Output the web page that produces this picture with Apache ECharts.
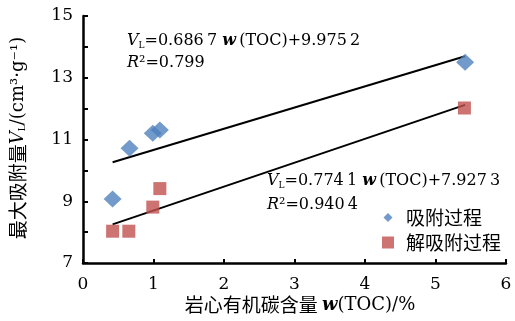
<!DOCTYPE html>
<html><head><meta charset="utf-8">
<script src="https://cdn.jsdelivr.net/npm/echarts@6/dist/echarts.min.js"></script>
<style>html,body{margin:0;padding:0;background:#fff}#c{width:515px;height:321px}</style>
</head><body><div id="c"></div>
<script>
const adsX = [0.42, 0.66, 0.99, 1.09, 5.42];
const adsY = [9.07, 10.72, 11.2, 11.31, 13.5];
const desX = [0.42, 0.65, 0.99, 1.09, 5.41];
const desY = [8.03, 8.03, 8.81, 9.41, 12.02];
const adsFit = {k: 0.6867, b: 9.9752};
const desFit = {k: 0.7741, b: 7.9273};
const adsR2 = '0.799';
const desR2 = '0.940\u20094';
const fitRange = [0.42, 5.42];
const xTicks = [0, 1, 2, 3, 4, 5, 6];
const yTicks = [7, 9, 11, 13, 15];
const seriesNames = ['吸附过程', '解吸附过程'];

const serif = '"DejaVu Serif","Liberation Serif","Noto Sans CJK SC",serif';
const cjk = '"Noto Sans CJK SC",sans-serif';
const fitLine = f => fitRange.map(x => [x, f.k * x + f.b]);
const grp = v => { const s = v.toFixed(4); return s.slice(0, 5) + '\u2009' + s.slice(5); };

const chart = echarts.init(document.getElementById('c'), null, {renderer: 'canvas'});
const rich = {
  v: {fontFamily: serif, fontStyle: 'italic', fontSize: 16, color: '#000'},
  s: {fontFamily: serif, fontSize: 9, color: '#000', padding: [10, 0, 0, 0]},
  t: {fontFamily: serif, fontSize: 16, color: '#000'},
  w: {fontFamily: serif, fontStyle: 'italic', fontWeight: 'bold', fontSize: 16, color: '#000'},
  c: {fontFamily: cjk, fontSize: 19, color: '#000'},
  v2: {fontFamily: serif, fontStyle: 'italic', fontSize: 18, color: '#000'},
  t2: {fontFamily: serif, fontSize: 18, color: '#000'},
  w2: {fontFamily: serif, fontStyle: 'italic', fontWeight: 'bold', fontSize: 18, color: '#000'}
};
function eqText(f) {
  return '{v|V}{s|L}{t|=' + grp(f.k) + ' }{w|w}{t|\u2009(TOC)+' + grp(f.b) + '}';
}
chart.setOption({
  animation: false,
  grid: {left: 83, right: 9, top: 16, bottom: 58},
  xAxis: {
    type: 'value', min: 0, max: 6, interval: 1,
    axisLine: {lineStyle: {color: '#000', width: 2.5}},
    axisTick: {inside: true, length: 4, lineStyle: {color: '#000', width: 2}},
    axisLabel: {fontFamily: serif, fontSize: 17, color: '#000', margin: 13},
    splitLine: {show: false}
  },
  yAxis: {
    type: 'value', min: 7, max: 15, interval: 1,
    axisLine: {show: true, lineStyle: {color: '#000', width: 2.5}},
    axisTick: {inside: true, length: 5, lineStyle: {color: '#000', width: 2}},
    axisLabel: {fontFamily: serif, fontSize: 17, color: '#000', margin: 10,
      formatter: v => yTicks.includes(v) ? String(v) : ''},
    splitLine: {show: false}
  },
  legend: {
    orient: 'vertical', left: 377, top: 203, itemGap: 6,
    itemWidth: 12, itemHeight: 12,
    textStyle: {fontFamily: cjk, fontSize: 19, color: '#000', padding: [0, 0, 0, 7]},
    data: [
      {name: seriesNames[0], icon: 'path://M0,0 M12,12 M6,1.5 L10.5,6 L6,10.5 L1.5,6 Z'},
      {name: seriesNames[1], icon: 'path://M0.5,0.5 L11.5,0.5 L11.5,11.5 L0.5,11.5 Z'}
    ]
  },
  series: [
    {name: seriesNames[0], type: 'scatter', symbol: 'diamond', symbolSize: [18, 17],
      itemStyle: {color: '#4F81BD'}, data: adsX.map((x, i) => [x, adsY[i]]), z: 3},
    {name: seriesNames[1], type: 'scatter', symbol: 'rect', symbolSize: 13,
      itemStyle: {color: '#C0504D'}, data: desX.map((x, i) => [x, desY[i]]), z: 3},
    {type: 'line', data: fitLine(adsFit), showSymbol: false, symbol: 'none',
      lineStyle: {color: '#000', width: 2}, z: 2, silent: true},
    {type: 'line', data: fitLine(desFit), showSymbol: false, symbol: 'none',
      lineStyle: {color: '#000', width: 2}, z: 2, silent: true}
  ],
  graphic: [
    {type: 'text', left: 127, top: 33, style: {rich, text: eqText(adsFit)}},
    {type: 'text', left: 127, top: 55, style: {rich, text: '{v|R}{t|²=' + adsR2 + '}'}},
    {type: 'text', left: 267, top: 173, style: {rich, text: eqText(desFit)}},
    {type: 'text', left: 267, top: 197, style: {rich, text: '{v|R}{t|²=' + desR2 + '}'}},
    {type: 'text', x: 18, y: 138, rotation: Math.PI / 2,
      style: {text: '{c|最大吸附量}{v2|V}{s|L}{t2|/(cm³·g⁻¹)}', align: 'center', verticalAlign: 'middle', rich}},
    {type: 'text', x: 300, y: 305,
      style: {text: '{c|岩心有机碳含量 }{w2|w}{t2|(TOC)/%}', align: 'center', verticalAlign: 'middle', rich}}
  ]
});
</script></body></html>
